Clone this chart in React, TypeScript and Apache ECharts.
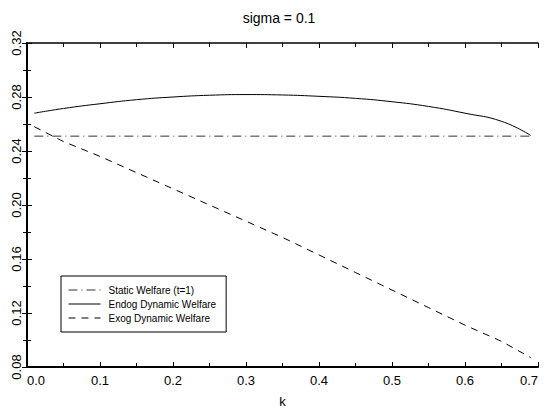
import React, { useEffect, useRef } from "react";
import * as echarts from "echarts";

const kValues = [0.01, 0.05, 0.1, 0.15, 0.2, 0.25, 0.3, 0.35, 0.4, 0.45, 0.5, 0.55, 0.6, 0.65, 0.69];
const staticWelfare = [0.251, 0.251, 0.251, 0.251, 0.251, 0.251, 0.251, 0.251, 0.251, 0.251, 0.251, 0.251, 0.251, 0.251, 0.251];
const endogWelfare = [0.268, 0.2715, 0.275, 0.278, 0.28, 0.2813, 0.2818, 0.2815, 0.2805, 0.279, 0.2765, 0.273, 0.268, 0.262, 0.2515];
const exogWelfare = [0.258, 0.247, 0.236, 0.224, 0.212, 0.2, 0.188, 0.176, 0.163, 0.15, 0.137, 0.124, 0.111, 0.099, 0.087];
const xTicks = ["0.0", "0.1", "0.2", "0.3", "0.4", "0.5", "0.6", "0.7"];
const yTicks = ["0.08", "0.12", "0.16", "0.20", "0.24", "0.28", "0.32"];

const pairs = (ys: number[]) => kValues.map((k, i) => [k, ys[i]]);

export default function App() {
  const ref = useRef<HTMLDivElement>(null);
  useEffect(() => {
    if (!ref.current) return;
    const chart = echarts.init(ref.current, null, { renderer: "svg" });
    const font = "Liberation Sans";
    const xBase = {
      type: "value",
      min: 0,
      max: 0.7,
      interval: 0.1,
      splitLine: { show: false },
      minorTick: { show: true, splitNumber: 2, length: 4, lineStyle: { color: "#000", width: 1 } },
      axisTick: { show: true, inside: true, length: 5, lineStyle: { color: "#000", width: 1 } },
    };
    const yBase = {
      type: "value",
      min: 0.08,
      max: 0.32,
      interval: 0.04,
      splitLine: { show: false },
      minorTick: { show: true, splitNumber: 2, length: 4, lineStyle: { color: "#000", width: 1 } },
      axisTick: { show: true, inside: true, length: 5, lineStyle: { color: "#000", width: 1 } },
    };
    chart.setOption({
      animation: false,
      backgroundColor: "#fff",
      title: {
        text: "sigma = 0.1",
        left: "center",
        top: 6,
        textStyle: { fontFamily: font, fontSize: 14, fontWeight: "normal", color: "#000" },
      },
      legend: {
        show: true,
        orient: "vertical",
        left: 61,
        top: 276,
        itemWidth: 32,
        itemHeight: 8,
        itemGap: 4,
        padding: [9, 10, 9, 7],
        borderColor: "#000",
        borderWidth: 1,
        backgroundColor: "#fff",
        itemStyle: { opacity: 0 },
        lineStyle: { width: 1 },
        textStyle: { fontFamily: font, fontSize: 10, color: "#000", padding: [0, 0, 0, 3] },
        data: ["Static Welfare (t=1)", "Endog Dynamic Welfare", "Exog Dynamic Welfare"],
      },
      grid: { left: 27, right: 20, top: 43, bottom: 47 },
      xAxis: [
        {
          ...xBase,
          position: "bottom",
          name: "k",
          nameLocation: "middle",
          nameGap: 28,
          nameTextStyle: { fontFamily: font, fontSize: 13, color: "#000" },
          axisLine: { show: true, lineStyle: { color: "#000", width: 2 } },
          axisLabel: {
            fontFamily: font,
            fontSize: 13,
            color: "#000",
            margin: 7,
            alignMinLabel: "left",
            alignMaxLabel: "right",
            formatter: (v: number) => xTicks[Math.round(v * 10)] ?? "",
          },
        },
        {
          ...xBase,
          position: "top",
          axisLine: { show: true, lineStyle: { color: "#000", width: 1.5 } },
          axisLabel: { show: false },
        },
      ],
      yAxis: [
        {
          ...yBase,
          position: "left",
          axisLine: { show: true, lineStyle: { color: "#000", width: 2 } },
          axisLabel: {
            fontFamily: font,
            fontSize: 13,
            color: "#000",
            rotate: 90,
            margin: 4,
            formatter: (v: number) => yTicks[Math.round((v - 0.08) / 0.04)] ?? "",
          },
        },
        {
          ...yBase,
          position: "right",
          axisLine: { show: true, lineStyle: { color: "#000", width: 1.5 } },
          axisLabel: { show: false },
        },
      ],
      series: [
        {
          name: "Static Welfare (t=1)",
          type: "line",
          data: pairs(staticWelfare),
          symbol: "none",
          color: "#333",
          lineStyle: { color: "#333", width: 1, type: [9, 4, 1, 4] },
        },
        {
          name: "Endog Dynamic Welfare",
          type: "line",
          data: pairs(endogWelfare),
          symbol: "none",
          smooth: true,
          color: "#000",
          lineStyle: { color: "#000", width: 1 },
        },
        {
          name: "Exog Dynamic Welfare",
          type: "line",
          data: pairs(exogWelfare),
          symbol: "none",
          color: "#000",
          lineStyle: { color: "#000", width: 1, type: [7, 6] },
        },
      ],
    });
    return () => chart.dispose();
  }, []);
  return <div ref={ref} style={{ width: 558, height: 414, position: "absolute", left: 0, top: 0 }} />;
}
